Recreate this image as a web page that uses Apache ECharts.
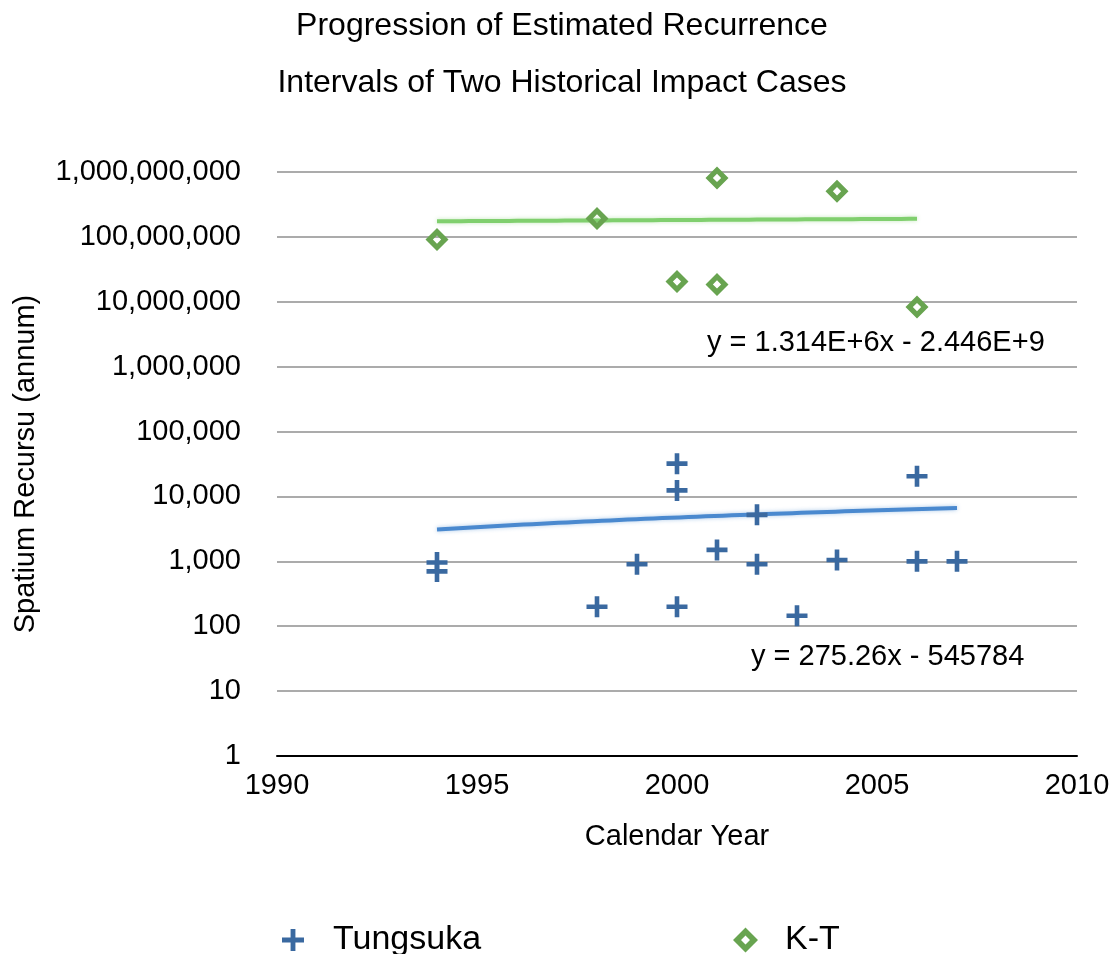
<!DOCTYPE html>
<html>
<head>
<meta charset="utf-8">
<script src="https://cdn.jsdelivr.net/npm/echarts@6/dist/echarts.min.js"></script>
<style>html,body{margin:0;padding:0;background:#fff}#c{width:1115px;height:954px}</style>
</head>
<body>
<div id="c"></div>
<script>
const titleLines = ['Progression of Estimated Recurrence', 'Intervals of Two Historical Impact Cases'];
const xTicks = [1990, 1995, 2000, 2005, 2010];
const tunguskaYears = [1994, 1994, 1998, 1999, 2000, 2000, 2000, 2001, 2002, 2002, 2003, 2004, 2006, 2006, 2007];
const tunguskaValues = [960, 700, 200, 900, 32000, 12400, 200, 1500, 5200, 900, 145, 1050, 20500, 1000, 1000];
const ktYears = [1994, 1998, 2000, 2001, 2001, 2004, 2006];
const ktValues = [91000000, 192000000, 20500000, 810000000, 18500000, 505000000, 8300000];
const tunguskaTrend = { slope: 275.26, intercept: -545784, from: 1994, to: 2007, label: 'y = 275.26x - 545784' };
const ktTrend = { slope: 1.314e6, intercept: -2.446e9, from: 1994, to: 2006, label: 'y = 1.314E+6x - 2.446E+9' };

function trendPoints(t) {
  const pts = [];
  const n = 60;
  for (let i = 0; i <= n; i++) {
    const x = t.from + (t.to - t.from) * i / n;
    pts.push([x, t.slope * x + t.intercept]);
  }
  return pts;
}
const zip = (a, b) => a.map((v, i) => [v, b[i]]);

const FONT = 'Liberation Sans';
const plusPath = 'path://M39,0H61V39H100V61H61V100H39V61H0V39H39Z';
const diamondPath = 'path://M50,0L100,50L50,100L0,50Z M50,32L32,50L50,68L68,50Z';
const blue = '#3a69a0', green = '#68a450';

const chart = echarts.init(document.getElementById('c'), null, { renderer: 'canvas' });
chart.setOption({
  animation: false,
  textStyle: { fontFamily: FONT, color: '#000' },
  title: [
    { text: titleLines[0], left: 557, textAlign: 'center', top: 5, textStyle: { fontFamily: FONT, fontSize: 32, fontWeight: 'normal', color: '#000' } },
    { text: titleLines[1], left: 557, textAlign: 'center', top: 62, textStyle: { fontFamily: FONT, fontSize: 32, fontWeight: 'normal', color: '#000' } }
  ],
  legend: [
    { data: [{ name: 'Tungsuka', icon: plusPath }], left: 277, top: 918, itemWidth: 22, itemHeight: 22, itemGap: 0,
      itemStyle: { opacity: 1 },
      textStyle: { fontFamily: FONT, fontSize: 34, color: '#000', padding: [0, 0, 0, 24] } },
    { data: [{ name: 'K-T', icon: diamondPath }], left: 728, top: 918, itemWidth: 25, itemHeight: 25, itemGap: 0,
      itemStyle: { opacity: 1 },
      textStyle: { fontFamily: FONT, fontSize: 34, color: '#000', padding: [0, 0, 0, 22] } }
  ],
  grid: { left: 277, right: 38, top: 172, bottom: 198, containLabel: false, outerBoundsMode: 'none' },
  xAxis: {
    type: 'value', min: xTicks[0], max: xTicks[xTicks.length - 1], interval: 5,
    name: 'Calendar Year', nameLocation: 'middle', nameGap: 66,
    nameTextStyle: { fontFamily: FONT, fontSize: 29, color: '#000' },
    axisLine: { show: true, lineStyle: { color: '#000', width: 2 } },
    axisTick: { show: false },
    splitLine: { show: false },
    axisLabel: { fontFamily: FONT, fontSize: 29, color: '#000', margin: 15, formatter: v => String(v) }
  },
  yAxis: {
    type: 'log', logBase: 10, min: 1, max: 1e9, splitNumber: 9,
    name: 'Spatium Recursu (annum)', nameLocation: 'middle', nameGap: 237, nameRotate: 90,
    nameTextStyle: { fontFamily: FONT, fontSize: 29, color: '#000' },
    axisLine: { show: false },
    axisTick: { show: false },
    splitLine: { show: true, lineStyle: { color: '#ababab', width: 2 } },
    axisLabel: { fontFamily: FONT, fontSize: 29, color: '#000', margin: 36,
      formatter: v => Math.round(v).toLocaleString('en-US') }
  },
  series: [
    { name: 'Tungsuka', type: 'scatter', data: zip(tunguskaYears, tunguskaValues), symbol: plusPath, symbolSize: 21,
      itemStyle: { color: blue, opacity: 1 }, z: 3 },
    { name: 'K-T', type: 'scatter', data: zip(ktYears, ktValues), symbol: diamondPath, symbolSize: 23,
      itemStyle: { color: green, opacity: 1 }, z: 3 },
    { name: 'Tungsuka trend', type: 'line', data: trendPoints(tunguskaTrend), showSymbol: false, smooth: false,
      lineStyle: { color: '#4a89cf', width: 4, shadowColor: 'rgba(74,137,207,0.45)', shadowBlur: 4 }, z: 2 },
    { name: 'K-T trend', type: 'line', data: trendPoints(ktTrend), showSymbol: false, smooth: false,
      lineStyle: { color: '#80cf6e', width: 4, shadowColor: 'rgba(128,207,110,0.45)', shadowBlur: 4 }, z: 2 }
  ],
  graphic: [
    { type: 'text', left: 707, top: 328, style: { text: ktTrend.label, fontFamily: FONT, fontSize: 29, fill: '#000' } },
    { type: 'text', left: 751, top: 642, style: { text: tunguskaTrend.label, fontFamily: FONT, fontSize: 29, fill: '#000' } }
  ]
});
</script>
</body>
</html>
